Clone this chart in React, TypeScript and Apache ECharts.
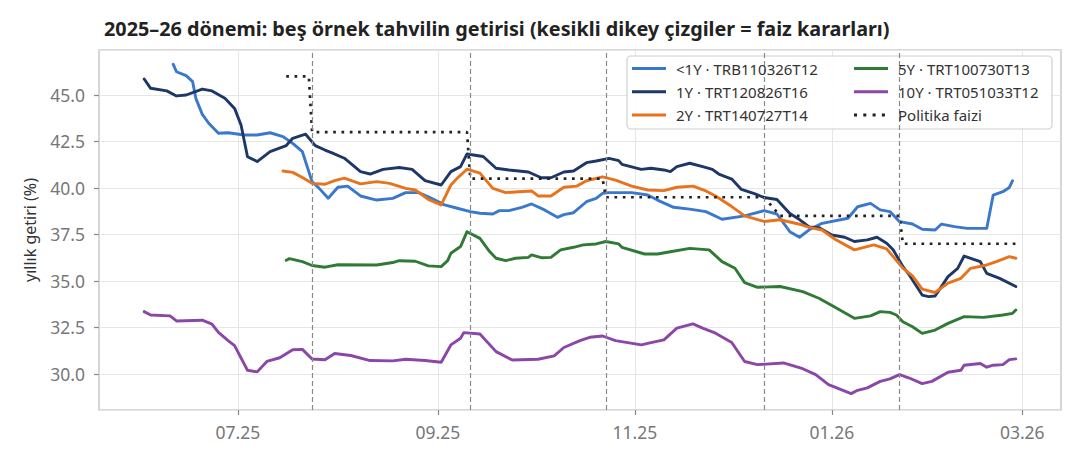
import React, { useEffect, useRef } from "react";
import * as echarts from "echarts";

// ---------- axis categories (daily calendar) ----------
const AXIS_START = "2025-05-19";
const AXIS_END = "2026-03-13";
function buildDays(start: string, end: string): string[] {
  const out: string[] = [];
  const t0 = Date.parse(start + "T00:00:00Z");
  const t1 = Date.parse(end + "T00:00:00Z");
  for (let t = t0; t <= t1; t += 86400000) {
    out.push(new Date(t).toISOString().slice(0, 10));
  }
  return out;
}
const categories = buildDays(AXIS_START, AXIS_END);

const xTickDates = ["2025-07-01", "2025-09-01", "2025-11-01", "2026-01-01", "2026-03-01"];
const yTicks = [30, 32.5, 35, 37.5, 40, 42.5, 45];
const decisionDates = ["2025-07-24", "2025-09-11", "2025-10-23", "2025-12-11", "2026-01-22"];

// ---------- series ----------
const lt1Y: [string, number][] = [
  ["2025-06-11", 46.65], ["2025-06-12", 46.25], ["2025-06-15", 46.04], ["2025-06-17", 45.72],
  ["2025-06-18", 44.82], ["2025-06-20", 43.96], ["2025-06-22", 43.48], ["2025-06-25", 42.94],
  ["2025-06-28", 42.97], ["2025-07-03", 42.85], ["2025-07-07", 42.85], ["2025-07-11", 42.97],
  ["2025-07-15", 42.76], ["2025-07-18", 42.4], ["2025-07-21", 41.95], ["2025-07-24", 40.34],
  ["2025-07-26", 40.02], ["2025-07-29", 39.45], ["2025-08-01", 40.04], ["2025-08-04", 40.1],
  ["2025-08-08", 39.57], ["2025-08-13", 39.35], ["2025-08-18", 39.44], ["2025-08-22", 39.75],
  ["2025-08-26", 39.75], ["2025-08-30", 39.44], ["2025-09-03", 39.09], ["2025-09-07", 38.91],
  ["2025-09-11", 38.73], ["2025-09-14", 38.64], ["2025-09-18", 38.6], ["2025-09-20", 38.78],
  ["2025-09-23", 38.78], ["2025-09-27", 38.96], ["2025-09-30", 39.14], ["2025-10-04", 38.82],
  ["2025-10-08", 38.42], ["2025-10-10", 38.57], ["2025-10-13", 38.67], ["2025-10-17", 39.26],
  ["2025-10-20", 39.44], ["2025-10-22", 39.71], ["2025-10-24", 39.75], ["2025-10-31", 39.75],
  ["2025-11-05", 39.62], ["2025-11-08", 39.35], ["2025-11-13", 38.96], ["2025-11-18", 38.86],
  ["2025-11-23", 38.73], ["2025-11-28", 38.32], ["2025-12-05", 38.5], ["2025-12-11", 38.78],
  ["2025-12-15", 38.6], ["2025-12-19", 37.65], ["2025-12-22", 37.35], ["2025-12-25", 37.75],
  ["2025-12-29", 38.1], ["2026-01-06", 38.37], ["2026-01-09", 38.99], ["2026-01-13", 39.17],
  ["2026-01-16", 38.82], ["2026-01-19", 38.73], ["2026-01-22", 38.19], ["2026-01-26", 38.06],
  ["2026-01-29", 37.78], ["2026-02-02", 37.74], ["2026-02-04", 38.06], ["2026-02-08", 37.92],
  ["2026-02-12", 37.83], ["2026-02-18", 37.83], ["2026-02-20", 39.62], ["2026-02-23", 39.8],
  ["2026-02-25", 40.03], ["2026-02-26", 40.39],
];

const y1Y: [string, number][] = [
  ["2025-06-02", 45.86], ["2025-06-04", 45.36], ["2025-06-09", 45.22], ["2025-06-12", 44.95],
  ["2025-06-15", 45.0], ["2025-06-20", 45.32], ["2025-06-23", 45.22], ["2025-06-27", 44.82],
  ["2025-06-30", 44.28], ["2025-07-02", 43.39], ["2025-07-04", 41.68], ["2025-07-07", 41.42],
  ["2025-07-11", 41.95], ["2025-07-16", 42.28], ["2025-07-18", 42.67], ["2025-07-22", 42.89],
  ["2025-07-25", 42.28], ["2025-07-28", 42.04], ["2025-07-30", 41.9], ["2025-08-03", 41.6],
  ["2025-08-08", 40.88], ["2025-08-11", 40.75], ["2025-08-15", 41.0], ["2025-08-20", 41.1],
  ["2025-08-24", 41.0], ["2025-08-28", 40.4], ["2025-09-02", 40.16], ["2025-09-05", 40.88],
  ["2025-09-08", 41.15], ["2025-09-10", 41.83], ["2025-09-15", 41.69], ["2025-09-19", 41.06],
  ["2025-09-23", 40.97], ["2025-09-29", 40.86], ["2025-10-03", 40.55], ["2025-10-06", 40.55],
  ["2025-10-10", 40.86], ["2025-10-13", 40.91], ["2025-10-17", 41.36], ["2025-10-20", 41.45],
  ["2025-10-24", 41.59], ["2025-10-27", 41.47], ["2025-10-28", 41.27], ["2025-11-03", 41.0],
  ["2025-11-06", 41.06], ["2025-11-10", 40.97], ["2025-11-12", 40.88], ["2025-11-14", 41.15],
  ["2025-11-18", 41.33], ["2025-11-22", 41.15], ["2025-11-25", 41.0], ["2025-11-27", 40.75],
  ["2025-12-01", 40.48], ["2025-12-04", 39.92], ["2025-12-08", 39.7], ["2025-12-11", 39.49],
  ["2025-12-15", 39.38], ["2025-12-19", 38.63], ["2025-12-22", 38.3], ["2025-12-25", 37.9],
  ["2025-12-28", 37.87], ["2026-01-01", 37.47], ["2026-01-05", 37.35], ["2026-01-08", 37.12],
  ["2026-01-12", 37.21], ["2026-01-15", 37.35], ["2026-01-18", 37.03], ["2026-01-20", 36.68],
  ["2026-01-23", 35.78], ["2026-01-25", 35.32], ["2026-01-29", 34.24], ["2026-01-31", 34.16],
  ["2026-02-02", 34.19], ["2026-02-06", 35.23], ["2026-02-09", 35.68], ["2026-02-11", 36.34],
  ["2026-02-16", 36.04], ["2026-02-18", 35.41], ["2026-02-22", 35.14], ["2026-02-27", 34.7],
];

const y2Y: [string, number][] = [
  ["2025-07-15", 40.91], ["2025-07-18", 40.84], ["2025-07-21", 40.56], ["2025-07-24", 40.25],
  ["2025-07-28", 40.2], ["2025-07-31", 40.4], ["2025-08-03", 40.53], ["2025-08-08", 40.22],
  ["2025-08-13", 40.34], ["2025-08-17", 40.25], ["2025-08-22", 39.98], ["2025-08-25", 39.89],
  ["2025-08-29", 39.39], ["2025-09-02", 39.09], ["2025-09-05", 40.16], ["2025-09-07", 40.53],
  ["2025-09-10", 41.01], ["2025-09-14", 40.8], ["2025-09-18", 39.98], ["2025-09-22", 39.75],
  ["2025-09-26", 39.8], ["2025-09-30", 39.84], ["2025-10-02", 39.57], ["2025-10-06", 39.57],
  ["2025-10-10", 40.04], ["2025-10-14", 40.1], ["2025-10-17", 40.39], ["2025-10-22", 40.6],
  ["2025-10-26", 40.42], ["2025-10-31", 40.1], ["2025-11-05", 39.89], ["2025-11-10", 39.86],
  ["2025-11-14", 40.04], ["2025-11-19", 40.1], ["2025-11-23", 39.84], ["2025-11-26", 39.57],
  ["2025-12-01", 39.0], ["2025-12-05", 38.5], ["2025-12-11", 38.2], ["2025-12-16", 38.29],
  ["2025-12-22", 38.05], ["2025-12-25", 37.88], ["2025-12-29", 37.74], ["2026-01-02", 37.24],
  ["2026-01-08", 36.67], ["2026-01-11", 36.81], ["2026-01-14", 36.94], ["2026-01-18", 36.72],
  ["2026-01-20", 36.31], ["2026-01-23", 35.69], ["2026-01-26", 35.27], ["2026-01-29", 34.56],
  ["2026-02-02", 34.38], ["2026-02-06", 34.88], ["2026-02-10", 35.14], ["2026-02-13", 35.68],
  ["2026-02-18", 35.86], ["2026-02-21", 36.04], ["2026-02-25", 36.31], ["2026-02-27", 36.22],
];

const y5Y: [string, number][] = [
  ["2025-07-16", 36.11], ["2025-07-17", 36.2], ["2025-07-21", 36.04], ["2025-07-24", 35.83],
  ["2025-07-28", 35.74], ["2025-08-01", 35.87], ["2025-08-13", 35.86], ["2025-08-18", 35.99],
  ["2025-08-20", 36.09], ["2025-08-25", 36.06], ["2025-08-29", 35.81], ["2025-09-02", 35.77],
  ["2025-09-04", 36.09], ["2025-09-05", 36.49], ["2025-09-08", 36.85], ["2025-09-10", 37.65],
  ["2025-09-14", 37.29], ["2025-09-17", 36.58], ["2025-09-19", 36.22], ["2025-09-22", 36.09],
  ["2025-09-25", 36.22], ["2025-09-29", 36.27], ["2025-09-30", 36.4], ["2025-10-03", 36.25],
  ["2025-10-06", 36.27], ["2025-10-09", 36.67], ["2025-10-13", 36.81], ["2025-10-16", 36.94],
  ["2025-10-20", 36.99], ["2025-10-23", 37.12], ["2025-10-27", 36.99], ["2025-10-28", 36.81],
  ["2025-11-04", 36.45], ["2025-11-08", 36.45], ["2025-11-12", 36.57], ["2025-11-18", 36.75],
  ["2025-11-24", 36.67], ["2025-11-28", 36.04], ["2025-12-02", 35.68], ["2025-12-05", 34.91],
  ["2025-12-09", 34.66], ["2025-12-16", 34.7], ["2025-12-23", 34.43], ["2025-12-28", 34.07],
  ["2026-01-02", 33.58], ["2026-01-08", 32.99], ["2026-01-13", 33.12], ["2026-01-16", 33.35],
  ["2026-01-19", 33.31], ["2026-01-21", 33.17], ["2026-01-23", 32.81], ["2026-01-26", 32.54],
  ["2026-01-29", 32.18], ["2026-02-02", 32.36], ["2026-02-06", 32.72], ["2026-02-11", 33.08],
  ["2026-02-17", 33.04], ["2026-02-23", 33.17], ["2026-02-26", 33.26], ["2026-02-27", 33.44],
];

const y10Y: [string, number][] = [
  ["2025-06-02", 33.35], ["2025-06-04", 33.17], ["2025-06-10", 33.12], ["2025-06-12", 32.85],
  ["2025-06-20", 32.89], ["2025-06-23", 32.68], ["2025-06-25", 32.23], ["2025-06-28", 31.79],
  ["2025-06-30", 31.52], ["2025-07-04", 30.2], ["2025-07-07", 30.11], ["2025-07-10", 30.67],
  ["2025-07-14", 30.87], ["2025-07-18", 31.3], ["2025-07-21", 31.32], ["2025-07-24", 30.8],
  ["2025-07-28", 30.76], ["2025-07-31", 31.1], ["2025-08-05", 30.99], ["2025-08-11", 30.72],
  ["2025-08-18", 30.7], ["2025-08-22", 30.79], ["2025-08-28", 30.72], ["2025-09-02", 30.63],
  ["2025-09-05", 31.56], ["2025-09-08", 31.92], ["2025-09-09", 32.22], ["2025-09-14", 32.15],
  ["2025-09-19", 31.2], ["2025-09-24", 30.75], ["2025-10-02", 30.79], ["2025-10-07", 30.97],
  ["2025-10-10", 31.42], ["2025-10-15", 31.79], ["2025-10-18", 31.97], ["2025-10-22", 32.04],
  ["2025-10-26", 31.79], ["2025-11-03", 31.56], ["2025-11-06", 31.68], ["2025-11-10", 31.83],
  ["2025-11-14", 32.46], ["2025-11-19", 32.69], ["2025-11-22", 32.46], ["2025-11-26", 32.19],
  ["2025-12-01", 31.69], ["2025-12-05", 30.67], ["2025-12-09", 30.5], ["2025-12-17", 30.59],
  ["2025-12-23", 30.28], ["2025-12-27", 29.96], ["2025-12-31", 29.42], ["2026-01-07", 28.94],
  ["2026-01-09", 29.12], ["2026-01-12", 29.25], ["2026-01-16", 29.6], ["2026-01-19", 29.73],
  ["2026-01-22", 29.96], ["2026-01-25", 29.78], ["2026-01-29", 29.48], ["2026-02-01", 29.6],
  ["2026-02-06", 30.09], ["2026-02-10", 30.2], ["2026-02-11", 30.47], ["2026-02-16", 30.56],
  ["2026-02-18", 30.36], ["2026-02-20", 30.47], ["2026-02-23", 30.5], ["2026-02-25", 30.77],
  ["2026-02-27", 30.81],
];

const policyRate: [string, number][] = [
  ["2025-07-16", 46], ["2025-07-23", 46], ["2025-07-24", 43], ["2025-09-10", 43],
  ["2025-09-11", 40.5], ["2025-10-22", 40.5], ["2025-10-23", 39.5], ["2025-12-11", 39.5],
  ["2025-12-16", 38.5], ["2026-01-22", 38.5], ["2026-01-23", 37], ["2026-02-27", 37],
];

const seriesNames = [
  "<1Y · TRB110326T12",
  "1Y · TRT120826T16",
  "2Y · TRT140727T14",
  "5Y · TRT100730T13",
  "10Y · TRT051033T12",
  "Politika faizi",
];
const seriesColors = ["#3a78cc", "#1d3868", "#e8731c", "#2f7a34", "#8b47a8", "#222222"];

const FONT = "'Noto Sans', 'Open Sans', sans-serif";
const LINE_ICON = "path://M0,0H34V3H0Z M39,0L39,3";
const DOT_ICON =
  "path://M0,0h3v3h-3z M9.3,0h3v3h-3z M18.6,0h3v3h-3z M27.9,0h3v3h-3z M39,0L39,3";

export default function App() {
  const ref = useRef<HTMLDivElement>(null);
  useEffect(() => {
    if (!ref.current) return;
    const chart = echarts.init(ref.current, undefined, { renderer: "svg" });
    const tickSet = new Set(xTickDates);
    const onTick = (_i: number, v: string) => tickSet.has(v);
    const dataSets = [lt1Y, y1Y, y2Y, y5Y, y10Y];
    const lines: any[] = dataSets.map((d, i) => ({
      name: seriesNames[i],
      type: "line",
      data: d,
      symbol: "none",
      showSymbol: false,
      z: 3,
      lineStyle: { color: seriesColors[i], width: 2.9, cap: "round", join: "round" },
      itemStyle: { color: seriesColors[i] },
    }));
    lines.push({
      name: seriesNames[5],
      type: "line",
      data: policyRate,
      symbol: "none",
      showSymbol: false,
      z: 4,
      lineStyle: { color: seriesColors[5], width: 2.7, type: [2.7, 5.6], cap: "butt" },
      itemStyle: { color: seriesColors[5] },
      markLine: {
        silent: true,
        symbol: ["none", "none"],
        label: { show: false },
        lineStyle: { color: "#8a8a8a", width: 1.2, type: [5, 3] },
        data: decisionDates.map((d) => ({ xAxis: d })),
      },
    });

    const legendCommon = {
      orient: "vertical",
      top: 61,
      padding: 0,
      itemWidth: 39,
      itemHeight: 3,
      itemGap: 8.2,
      z: 10,
      textStyle: { fontSize: 15, color: "#333", fontFamily: FONT },
    };

    chart.setOption({
      animation: false,
      textStyle: { fontFamily: FONT },
      title: {
        text: "2025–26 dönemi: beş örnek tahvilin getirisi (kesikli dikey çizgiler = faiz kararları)",
        left: 99,
        top: 13,
        textStyle: { fontSize: 19.8, fontWeight: "bold", color: "#222", fontFamily: FONT },
      },
      grid: {
        left: 99,
        right: 19,
        top: 50,
        bottom: 55,
        show: true,
        borderColor: "#cccccc",
        borderWidth: 1.6,
        backgroundColor: "transparent",
      },
      legend: [
        {
          ...legendCommon,
          left: 632,
          data: seriesNames.slice(0, 3).map((n) => ({ name: n, icon: LINE_ICON })),
        },
        {
          ...legendCommon,
          left: 854,
          data: seriesNames.slice(3).map((n, i) => ({ name: n, icon: i === 2 ? DOT_ICON : LINE_ICON })),
        },
      ],
      graphic: [
        {
          type: "rect",
          z: 5,
          shape: { x: 627, y: 56, width: 425, height: 73, r: 4 },
          style: { fill: "rgba(255,255,255,0.9)", stroke: "#d0d0d0", lineWidth: 1.2 },
        },
      ],
      xAxis: {
        type: "category",
        data: categories,
        boundaryGap: false,
        axisLine: { show: false },
        axisTick: {
          show: true,
          interval: onTick,
          length: 5,
          lineStyle: { color: "#888", width: 1.2 },
        },
        axisLabel: {
          interval: onTick,
          margin: 13,
          fontSize: 17.5,
          color: "#777",
          fontFamily: FONT,
          formatter: (v: string) => v.slice(5, 7) + "." + v.slice(2, 4),
        },
        splitLine: { show: true, interval: onTick, lineStyle: { color: "#e6e6e6", width: 1 } },
      },
      yAxis: {
        type: "value",
        min: 28.06,
        max: 47.42,
        minInterval: 2.5,
        maxInterval: 2.5,
        name: "yıllık getiri (%)",
        nameLocation: "middle",
        nameGap: 61,
        nameTextStyle: { fontSize: 16, color: "#333", fontFamily: FONT },
        axisLine: { show: false },
        axisTick: { show: true, length: 5, lineStyle: { color: "#888", width: 1.2 } },
        axisLabel: {
          showMinLabel: false,
          showMaxLabel: false,
          margin: 14,
          fontSize: 17.5,
          color: "#777",
          fontFamily: FONT,
          formatter: (v: number) => (yTicks.includes(Math.round(v * 10) / 10) ? v.toFixed(1) : ""),
        },
        splitLine: { show: true, lineStyle: { color: "#e6e6e6", width: 1 } },
      },
      series: lines,
    });
    return () => chart.dispose();
  }, []);
  return (
    <div
      ref={ref}
      style={{ position: "fixed", left: 0, top: 0, width: 1080, height: 465, background: "#fff" }}
    />
  );
}
